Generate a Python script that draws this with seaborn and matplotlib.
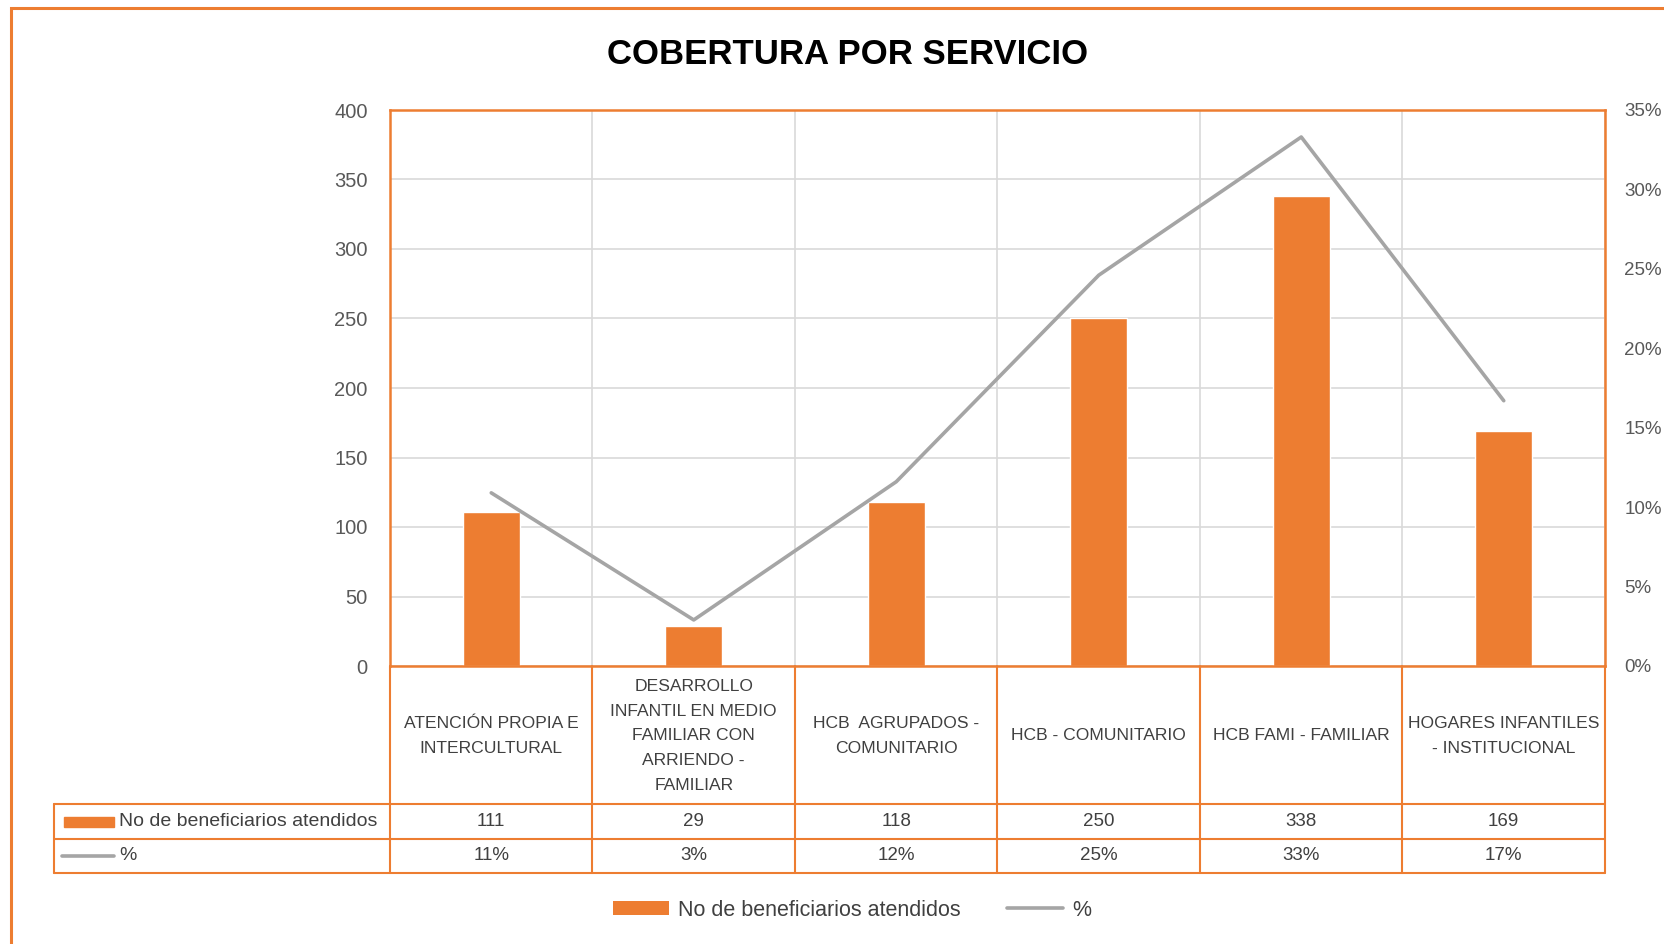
import numpy as np
import matplotlib
matplotlib.use("Agg")
import matplotlib.pyplot as plt
import matplotlib.transforms as mtrans
from matplotlib.lines import Line2D
from matplotlib.patches import Rectangle, Patch
from matplotlib.ticker import PercentFormatter
import seaborn as sns

# ---- data ----
categories = [
    "ATENCIÓN PROPIA E\nINTERCULTURAL",
    "DESARROLLO\nINFANTIL EN MEDIO\nFAMILIAR CON\nARRIENDO -\nFAMILIAR",
    "HCB  AGRUPADOS -\nCOMUNITARIO",
    "HCB - COMUNITARIO",
    "HCB FAMI - FAMILIAR",
    "HOGARES INFANTILES\n- INSTITUCIONAL",
]
beneficiarios = [111, 29, 118, 250, 338, 169]
porcentaje = [0.109, 0.029, 0.116, 0.246, 0.333, 0.167]
porcentaje_labels = ["11%", "3%", "12%", "25%", "33%", "17%"]
series_names = ["No de beneficiarios atendidos", "%"]
title = "COBERTURA POR SERVICIO"

ORANGE = "#ED7D31"
GRAY = "#A5A5A5"
GRID = "#D9D9D9"
TXT = "#404040"

sns.set_style("white")
plt.rcParams["font.family"] = ["Liberation Sans", "DejaVu Sans"]

W, H = 1665, 944
fig = plt.figure(figsize=(W / 100, H / 100), dpi=100)

def fx(px):
    return px / W

def fy(py):
    return 1 - py / H

L, R, T, B = 390, 1605, 110, 666
ax = fig.add_axes([fx(L), fy(B), fx(R - L), (B - T) / H])

sns.barplot(x=list(range(len(categories))), y=beneficiarios, color=ORANGE,
            saturation=1, width=0.28, ax=ax, native_scale=True)
ax.set_xlim(-0.5, len(categories) - 0.5)
ax.set_ylim(0, 400)
ax.set_yticks(np.arange(0, 401, 50))
ax.set_xticks([])
ax.set_xticks(np.arange(-0.5, len(categories)), minor=True)
ax.tick_params(axis="x", which="both", length=0, labelbottom=False)
ax.tick_params(axis="y", length=0, pad=16, labelsize=14.5, labelcolor="#595959")
ax.grid(True, axis="y", color=GRID, lw=1.2)
ax.grid(True, axis="x", which="minor", color=GRID, lw=1.2)
ax.set_axisbelow(True)
ax.set_xlabel("")
ax.set_ylabel("")
for s in ax.spines.values():
    s.set_color(ORANGE)
    s.set_linewidth(1.8)
    s.set_visible(True)

ax2 = ax.twinx()
sns.lineplot(x=list(range(len(categories))), y=porcentaje, ax=ax2, color=GRAY, lw=2.6)
ax2.set_ylim(0, 0.35)
ax2.set_yticks(np.arange(0, 0.351, 0.05))
ax2.yaxis.set_major_formatter(PercentFormatter(1.0, decimals=0))
ax2.tick_params(axis="y", length=0, pad=14, labelsize=13.5, labelcolor="#595959")
ax2.set_ylabel("")
for s in ax2.spines.values():
    s.set_visible(False)
ax2.grid(False)

# title
fig.text(fx(848), fy(55), title, ha="center", va="center", fontsize=25,
         fontweight="bold", color="black")

# ---- data table ----
blend = mtrans.blended_transform_factory(ax.transData, fig.transFigure)
row_cat_top, row1_top, row2_top, tbl_bot = B, 804, 839, 873
TL = 54
lw_t = 1.5
for yy in [row1_top, row2_top, tbl_bot]:
    fig.add_artist(Line2D([fx(TL), fx(R)], [fy(yy), fy(yy)], color=ORANGE, lw=lw_t))
for k in range(len(categories) + 1):
    xb = k - 0.5
    fig.add_artist(Line2D([xb, xb], [fy(row_cat_top), fy(tbl_bot)], color=ORANGE,
                          lw=lw_t, transform=blend))
fig.add_artist(Line2D([fx(TL), fx(TL)], [fy(row1_top), fy(tbl_bot)], color=ORANGE, lw=lw_t))

for i, cat in enumerate(categories):
    fig.text(i, fy((row_cat_top + row1_top) / 2 + 1), cat, transform=blend, ha="center",
             va="center", fontsize=12.6, color=TXT, linespacing=1.8)
    fig.text(i, fy((row1_top + row2_top) / 2), str(beneficiarios[i]), transform=blend,
             ha="center", va="center", fontsize=13.5, color=TXT)
    fig.text(i, fy((row2_top + tbl_bot) / 2), porcentaje_labels[i], transform=blend,
             ha="center", va="center", fontsize=13.5, color=TXT)

# row headers
y1 = fy((row1_top + row2_top) / 2)
y2 = fy((row2_top + tbl_bot) / 2)
fig.add_artist(Rectangle((fx(64), y1 - 5 / H), fx(50), 10 / H, color=ORANGE,
                         transform=fig.transFigure))
fig.text(fx(119), y1, series_names[0], ha="left", va="center", fontsize=14, color=TXT)
fig.add_artist(Line2D([fx(62), fx(114)], [y2, y2], color=GRAY, lw=2.6))
fig.text(fx(119), y2, series_names[1], ha="left", va="center", fontsize=14, color=TXT)

# legend
handles = [Patch(facecolor=ORANGE, edgecolor="none"), Line2D([], [], color=GRAY, lw=2.6)]
fig.legend(handles, series_names, loc="center", bbox_to_anchor=(fx(852), fy(910)),
           ncol=2, frameon=False, fontsize=15.5, handlelength=2.6, handleheight=0.6,
           columnspacing=2.2, handletextpad=0.4, labelcolor=TXT)

# outer chart border (cropped at right/bottom)
fig.add_artist(Rectangle((fx(11), fy(H + 20)), fx(W + 40), (H + 20 - 8) / H,
                         fill=False, edgecolor=ORANGE, lw=2.2, transform=fig.transFigure))

fig.savefig("out.png", dpi=100)
